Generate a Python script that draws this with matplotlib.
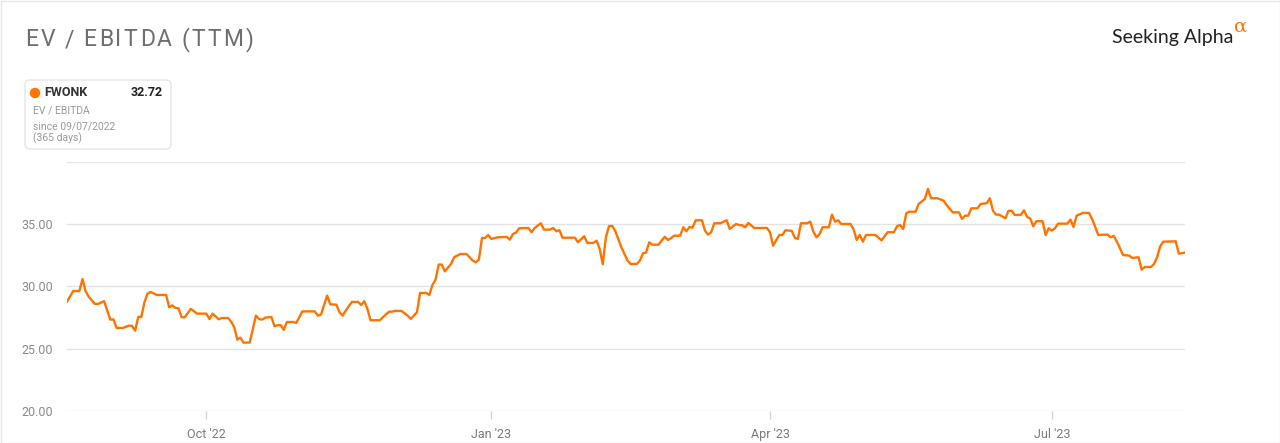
import numpy as np
import pandas as pd

import matplotlib as mpl
mpl.use('Agg')
import matplotlib.pyplot as plt
import matplotlib.dates as mdates
from matplotlib.patches import FancyBboxPatch, Rectangle, Circle
from matplotlib.transforms import Affine2D

# EV / EBITDA (TTM) for FWONK
dates = [
    '2022-08-17', '2022-08-19', '2022-08-21', '2022-08-22', '2022-08-23', '2022-08-24', '2022-08-26',
    '2022-08-27', '2022-08-29', '2022-08-30', '2022-08-31', '2022-09-01', '2022-09-02', '2022-09-04',
    '2022-09-06', '2022-09-07', '2022-09-08', '2022-09-09', '2022-09-10', '2022-09-11', '2022-09-12',
    '2022-09-13', '2022-09-15', '2022-09-18', '2022-09-19', '2022-09-20', '2022-09-21', '2022-09-22',
    '2022-09-23', '2022-09-24', '2022-09-26', '2022-09-28', '2022-10-01', '2022-10-02', '2022-10-03',
    '2022-10-05', '2022-10-06', '2022-10-08', '2022-10-09', '2022-10-10', '2022-10-11', '2022-10-12',
    '2022-10-13', '2022-10-15', '2022-10-16', '2022-10-17', '2022-10-18', '2022-10-19', '2022-10-20',
    '2022-10-22', '2022-10-23', '2022-10-24', '2022-10-25', '2022-10-26', '2022-10-27', '2022-10-29',
    '2022-10-30', '2022-11-01', '2022-11-05', '2022-11-06', '2022-11-07', '2022-11-09', '2022-11-10',
    '2022-11-12', '2022-11-13', '2022-11-14', '2022-11-15', '2022-11-17', '2022-11-19', '2022-11-20',
    '2022-11-21', '2022-11-22', '2022-11-23', '2022-11-26', '2022-11-27', '2022-11-29', '2022-11-30',
    '2022-12-01', '2022-12-03', '2022-12-05', '2022-12-06', '2022-12-08', '2022-12-09', '2022-12-11',
    '2022-12-12', '2022-12-13', '2022-12-14', '2022-12-15', '2022-12-16', '2022-12-17', '2022-12-19',
    '2022-12-20', '2022-12-22', '2022-12-24', '2022-12-26', '2022-12-27', '2022-12-28', '2022-12-29',
    '2022-12-30', '2022-12-31', '2023-01-01', '2023-01-03', '2023-01-06', '2023-01-07', '2023-01-08',
    '2023-01-09', '2023-01-10', '2023-01-13', '2023-01-14', '2023-01-15', '2023-01-17', '2023-01-18',
    '2023-01-20', '2023-01-21', '2023-01-22', '2023-01-23', '2023-01-24', '2023-01-28', '2023-01-29',
    '2023-01-31', '2023-02-01', '2023-02-03', '2023-02-04', '2023-02-05', '2023-02-06', '2023-02-07',
    '2023-02-08', '2023-02-09', '2023-02-10', '2023-02-12', '2023-02-14', '2023-02-15', '2023-02-17',
    '2023-02-18', '2023-02-19', '2023-02-20', '2023-02-21', '2023-02-22', '2023-02-24', '2023-02-26',
    '2023-02-27', '2023-02-28', '2023-03-01', '2023-03-03', '2023-03-04', '2023-03-05', '2023-03-06',
    '2023-03-07', '2023-03-08', '2023-03-10', '2023-03-11', '2023-03-12', '2023-03-13', '2023-03-14',
    '2023-03-16', '2023-03-18', '2023-03-19', '2023-03-21', '2023-03-22', '2023-03-23', '2023-03-24',
    '2023-03-25', '2023-03-27', '2023-03-28', '2023-03-31', '2023-04-01', '2023-04-02', '2023-04-04',
    '2023-04-05', '2023-04-06', '2023-04-08', '2023-04-09', '2023-04-10', '2023-04-11', '2023-04-13',
    '2023-04-14', '2023-04-15', '2023-04-16', '2023-04-17', '2023-04-18', '2023-04-20', '2023-04-21',
    '2023-04-22', '2023-04-23', '2023-04-24', '2023-04-27', '2023-04-28', '2023-04-29', '2023-04-30',
    '2023-05-01', '2023-05-02', '2023-05-05', '2023-05-07', '2023-05-09', '2023-05-11', '2023-05-12',
    '2023-05-13', '2023-05-14', '2023-05-15', '2023-05-16', '2023-05-18', '2023-05-19', '2023-05-21',
    '2023-05-22', '2023-05-23', '2023-05-25', '2023-05-27', '2023-05-28', '2023-05-30', '2023-06-01',
    '2023-06-02', '2023-06-03', '2023-06-04', '2023-06-05', '2023-06-07', '2023-06-08', '2023-06-10',
    '2023-06-11', '2023-06-12', '2023-06-13', '2023-06-14', '2023-06-16', '2023-06-17', '2023-06-18',
    '2023-06-19', '2023-06-21', '2023-06-22', '2023-06-23', '2023-06-24', '2023-06-25', '2023-06-26',
    '2023-06-28', '2023-06-29', '2023-06-30', '2023-07-01', '2023-07-02', '2023-07-03', '2023-07-06',
    '2023-07-07', '2023-07-08', '2023-07-09', '2023-07-11', '2023-07-13', '2023-07-14', '2023-07-16',
    '2023-07-19', '2023-07-20', '2023-07-21', '2023-07-22', '2023-07-24', '2023-07-26', '2023-07-27',
    '2023-07-29', '2023-07-30', '2023-07-31', '2023-08-02', '2023-08-03', '2023-08-04', '2023-08-05',
    '2023-08-06', '2023-08-10', '2023-08-11', '2023-08-13',
]
ev_ebitda = [
    28.78, 29.64, 29.64, 30.60, 29.62, 29.18, 28.60,
    28.60, 28.82, 28.06, 27.34, 27.36, 26.67, 26.67,
    26.86, 26.84, 26.45, 27.55, 27.55, 28.73, 29.43,
    29.56, 29.32, 29.32, 28.33, 28.49, 28.28, 28.25,
    27.53, 27.53, 28.20, 27.82, 27.82, 27.39, 27.82,
    27.37, 27.47, 27.47, 27.18, 26.73, 25.73, 25.89,
    25.49, 25.50, 26.59, 27.66, 27.39, 27.34, 27.50,
    27.55, 26.81, 26.89, 26.89, 26.51, 27.15, 27.15,
    27.07, 28.00, 28.00, 27.66, 27.74, 29.27, 28.57,
    28.54, 27.93, 27.66, 28.06, 28.76, 28.76, 28.52,
    28.82, 28.20, 27.29, 27.29, 27.53, 27.98, 27.98,
    28.04, 28.04, 27.66, 27.39, 27.93, 29.48, 29.48,
    29.32, 30.12, 30.55, 31.76, 31.76, 31.22, 31.81,
    32.35, 32.61, 32.61, 32.08, 31.95, 32.16, 33.90,
    33.90, 34.14, 33.82, 33.95, 33.98, 33.76, 34.22,
    34.33, 34.68, 34.70, 34.36, 34.70, 35.08, 34.57,
    34.57, 34.70, 34.44, 34.52, 33.92, 33.92, 33.55,
    34.04, 33.50, 33.50, 33.68, 33.02, 31.79, 33.95,
    34.84, 34.87, 34.49, 33.15, 32.08, 31.81, 31.81,
    32.08, 32.67, 32.73, 33.55, 33.36, 33.36, 34.00,
    33.74, 33.87, 34.08, 34.08, 34.76, 34.44, 34.78,
    34.73, 35.32, 35.32, 34.49, 34.17, 34.36, 35.08,
    35.08, 35.32, 34.62, 35.02, 34.94, 34.92, 34.76,
    35.10, 34.68, 34.70, 34.70, 34.36, 33.28, 34.14,
    34.14, 34.52, 34.47, 33.92, 33.82, 35.08, 35.08,
    35.21, 34.41, 33.95, 34.22, 34.76, 34.76, 35.77,
    35.21, 35.32, 35.02, 35.02, 34.57, 33.74, 34.14,
    33.60, 34.14, 34.14, 33.71, 34.36, 34.36, 34.84,
    34.94, 34.62, 35.88, 36.01, 36.01, 36.63, 37.03,
    37.84, 37.09, 37.09, 36.90, 36.55, 35.96, 35.96,
    35.43, 35.69, 35.69, 36.28, 36.28, 36.63, 36.70,
    37.09, 36.09, 35.77, 35.77, 35.48, 36.07, 36.09,
    35.75, 35.75, 36.12, 35.59, 35.48, 34.84, 35.24,
    35.24, 34.14, 34.68, 34.49, 34.68, 35.05, 35.05,
    35.37, 34.78, 35.69, 35.91, 35.91, 35.43, 34.14,
    34.17, 33.95, 34.06, 33.60, 32.53, 32.48, 32.29,
    32.35, 31.35, 31.57, 31.57, 31.81, 32.35, 33.23,
    33.60, 33.63, 32.64, 32.72,
]

ticker = 'FWONK'
last_value = '32.72'
y_ticks = [20, 25, 30, 35, 40]
title = 'EV / EBITDA (TTM)'

orange = '#ff7300'
W, H = 1280, 443

plt.rcParams['font.family'] = ['Roboto', 'DejaVu Sans']

df = pd.DataFrame({'date': pd.to_datetime(dates), 'value': ev_ebitda})

fig = plt.figure(figsize=(W / 100, H / 100), dpi=100)
fig.patch.set_facecolor('white')

# pixel coordinates, origin top-left
px = Affine2D().scale(1, -1).translate(0, H).scale(1 / W, 1 / H) + fig.transFigure

fig.add_artist(Rectangle((0.5, 0.5), W - 1, H - 1, transform=px, fill=False,
                         edgecolor='#e6e6e6', linewidth=1))

ax = fig.add_axes([67 / W, (H - 411) / H, (1185 - 67) / W, (411 - 162) / H])
ax.plot(df.date, df.value, color=orange, linewidth=1.7, solid_joinstyle='round')

ax.set_xlim(df.date.iloc[0], df.date.iloc[-1])
ax.set_ylim(20, 40)
ax.set_yticks(y_ticks)
ax.set_yticklabels(['%.2f' % v if v < 40 else '' for v in y_ticks])
ax.yaxis.grid(True, color='#e3e3e3', linewidth=1)
ax.set_axisbelow(True)
ax.tick_params(axis='y', length=0, pad=10, labelsize=9, labelcolor='#8a8a8a')

ax.xaxis.set_major_locator(mdates.MonthLocator(bymonth=[1, 4, 7, 10]))
ax.xaxis.set_major_formatter(mdates.DateFormatter("%b '%y"))
ax.tick_params(axis='x', length=6, width=1, color='#d5d5d5', pad=6,
               labelsize=9, labelcolor='#7a7a7a')
for s in ax.spines.values():
    s.set_visible(False)

# title, drawn letter by letter for the wide tracking
renderer = fig.canvas.get_renderer()
cx = 25
for ch in title:
    t = fig.text(cx / W, 1 - 40 / H, ch, fontsize=16.5, color='#6e6e6e',
                 va='center', ha='left')
    if ch == ' ':
        w = 5.0
    else:
        w = t.get_window_extent(renderer).width
    cx += w + 2.3

fig.text(1233 / W, 1 - 37 / H, 'Seeking Alpha', fontsize=14, color='#222222',
         va='center', ha='right', family=['Lato', 'DejaVu Sans'])
fig.text(1234 / W, 1 - 27 / H, 'α', fontsize=14, color=orange,
         va='center', ha='left', family=['DejaVu Serif'])

# legend card
fig.add_artist(FancyBboxPatch((25, 80), 146, 69, boxstyle='round,pad=0,rounding_size=5',
                              transform=px, facecolor='white', edgecolor='#e6e6e6',
                              linewidth=1))
fig.add_artist(Circle((35, 93), 4.5, transform=px, color=orange))
fig.text(44 / W, 1 - 93 / H, ticker, fontsize=9, fontweight='bold', color='#333333',
         va='center', ha='left')
fig.text(163 / W, 1 - 93 / H, last_value, fontsize=9, fontweight='bold', color='#222222',
         va='center', ha='right')
fig.text(33 / W, 1 - 110 / H, 'EV / EBITDA', fontsize=7.5, color='#999999', va='center', ha='left')
fig.text(33 / W, 1 - 126 / H, 'since 09/07/2022', fontsize=7.5, color='#999999', va='center', ha='left')
fig.text(33 / W, 1 - 138 / H, '(365 days)', fontsize=7.5, color='#999999', va='center', ha='left')

fig.savefig('out.png', dpi=100)
